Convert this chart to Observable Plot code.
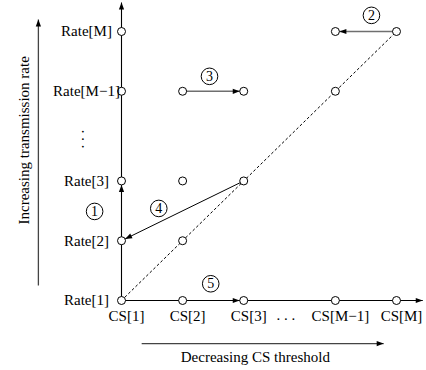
<!DOCTYPE html>
<html><head><meta charset="utf-8">
<script src="https://cdn.jsdelivr.net/npm/d3@7"></script>
<script src="https://cdn.jsdelivr.net/npm/@observablehq/plot@0.6"></script>
<style>body{margin:0;background:#fff}</style>
</head><body><div id="chart"></div>
<script>
// ordinal levels (gap left for the ellipsis between 3 and M-1)
const levelPos = [1, 2, 3, 4.5, 5.5];
const csLabels = ["CS[1]", "CS[2]", "CS[3]", "CS[M\u22121]", "CS[M]"];
const rateLabels = ["Rate[1]", "Rate[2]", "Rate[3]", "Rate[M\u22121]", "Rate[M]"];
// states drawn as open circles: [cs index, rate index]
const states = [[0,0],[0,1],[0,2],[0,3],[0,4],[1,0],[1,1],[1,2],[1,3],[2,0],[2,2],[2,3],[3,0],[3,3],[3,4],[4,0],[4,4]];
const diagonal = [0, 1, 2, 3, 4];
// transitions: from/to [cs index, rate index]
const stepNames = ["1", "2", "3", "4", "5"];
const stepFrom = [[0,1],[4,4],[1,3],[2,2],[1,0]];
const stepTo   = [[0,2],[3,4],[2,3],[0,1],[2,0]];
const stepGray = [false, true, true, false, false];
const stepLabelX = [0.56, 5.09, 2.44, 1.61, 2.46];
const stepLabelY = [2.49, 5.77, 4.75, 2.54, 1.28];
const ellipsisAt = 3.66;
const axisEnd = {x: 5.93, y: 5.985};
const titleArrowX = {y: 0.28, from: 1.33, to: 5.29};
const titleArrowY = {x: -0.36, from: 1.25, to: 5.70};
const xTitle = "Decreasing CS threshold";
const yTitle = "Increasing transmission rate";

const steps = stepNames.map((n, i) => ({
  n, x1: levelPos[stepFrom[i][0]], y1: levelPos[stepFrom[i][1]],
  x2: levelPos[stepTo[i][0]], y2: levelPos[stepTo[i][1]],
  stroke: stepGray[i] ? "#6f6f6f" : "black", sw: stepGray[i] ? 1.6 : 1,
  lx: stepLabelX[i], ly: stepLabelY[i]
}));

function head(offset) {
  return () => {
    const m = d3.create("svg:marker")
      .attr("viewBox", "-20 -20 40 40")
      .attr("markerWidth", 40).attr("markerHeight", 40)
      .attr("markerUnits", "userSpaceOnUse")
      .attr("refX", 0).attr("refY", 0)
      .attr("orient", "auto")
      .attr("overflow", "visible");
    m.append("path")
      .attr("d", `M${-offset - 7},-2.6L${-offset},0L${-offset - 7},2.6Z`)
      .attr("fill", "black").attr("stroke", "none");
    return m.node();
  };
}

function build(tipEnd, tipCircle) {
  return Plot.plot({
    width: 426, height: 370,
    marginLeft: 121, marginRight: 30, marginTop: 31, marginBottom: 70,
    x: {domain: [1, 5.5], axis: null},
    y: {domain: [1, 5.5], axis: null},
    style: {fontFamily: "'Liberation Serif', serif", fontSize: "15px", background: "white", overflow: "visible"},
    marks: [
      Plot.line(diagonal, {x: i => levelPos[i], y: i => levelPos[i], stroke: "black", strokeWidth: 1, strokeDasharray: "2,3"}),
      // main axes
      Plot.link([{x1: 1, y1: 1, x2: 1, y2: axisEnd.y}, {x1: 1, y1: 1, x2: axisEnd.x, y2: 1}],
        {x1: "x1", y1: "y1", x2: "x2", y2: "y2", stroke: "black", strokeWidth: 1.1, markerEnd: tipEnd}),
      // transitions
      Plot.link(steps, {x1: "x1", y1: "y1", x2: "x2", y2: "y2", stroke: "stroke", strokeWidth: "sw", markerEnd: tipCircle}),
      // axis title arrows
      Plot.link([{x1: titleArrowX.from, y1: titleArrowX.y, x2: titleArrowX.to, y2: titleArrowX.y},
                 {x1: titleArrowY.x, y1: titleArrowY.from, x2: titleArrowY.x, y2: titleArrowY.to}],
        {x1: "x1", y1: "y1", x2: "x2", y2: "y2", stroke: "#444", strokeWidth: 1.3, markerEnd: tipEnd}),
      // states
      Plot.dot(states, {x: d => levelPos[d[0]], y: d => levelPos[d[1]], r: 4, fill: "white", stroke: "black", strokeWidth: 1}),
      // circled step numbers
      Plot.dot(steps, {x: "lx", y: "ly", r: 8.3, fill: "none", stroke: "black", strokeWidth: 1}),
      Plot.text(steps, {x: "lx", y: "ly", text: "n", fontSize: 14}),
      // tick labels
      Plot.text(csLabels, {x: (d, i) => levelPos[i], text: d => d, frameAnchor: "bottom", textAnchor: "middle", lineAnchor: "middle", dy: 16, dx: 5, fontSize: 15}),
      Plot.text(["\u00a0.\u00a0.\u00a0."], {x: ellipsisAt, text: d => d, frameAnchor: "bottom", textAnchor: "middle", lineAnchor: "middle", dy: 15, fontSize: 15}),
      Plot.text(rateLabels, {y: (d, i) => levelPos[i], text: d => d, frameAnchor: "left", textAnchor: "middle", lineAnchor: "middle", dx: -35, fontSize: 15}),
      Plot.text([". . ."], {y: 3.7, text: d => d, frameAnchor: "left", textAnchor: "middle", lineAnchor: "middle", dx: -35, rotate: 90, fontSize: 15}),
      // axis titles
      Plot.text([xTitle], {x: 3.19, y: 0.047, text: d => d, fontSize: 15}),
      Plot.text([yTitle], {x: -0.59, y: 3.68, text: d => d, rotate: -90, fontSize: 15})
    ]
  });
}

let chart;
try { chart = build(head(0), head(4)); }
catch (e) { chart = build("arrow", "arrow"); }
document.getElementById("chart").append(chart);
</script>
</body></html>
